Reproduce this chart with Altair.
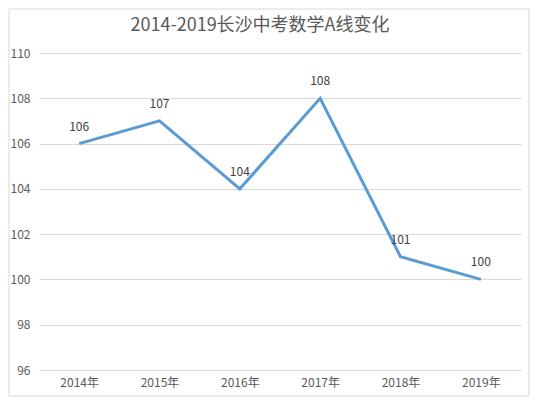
import altair as alt
import pandas as pd

years = ["2014年", "2015年", "2016年", "2017年", "2018年", "2019年"]
scores = [106, 107, 104, 108, 101, 100]
y_ticks = [96, 98, 100, 102, 104, 106, 108, 110]
title_text = "2014-2019长沙中考数学A线变化"

df = pd.DataFrame({"year": years, "score": scores})
FONT = "Noto Sans CJK SC"

x = alt.X("year:N", sort=years, title=None,
          scale=alt.Scale(type="point", padding=0.5),
          axis=alt.Axis(labelAngle=0, ticks=False, domain=False, grid=False,
                        labelPadding=7, labelFontSize=12, labelColor="#595959", labelFont=FONT))
y = alt.Y("score:Q", title=None,
          scale=alt.Scale(domain=[96, 110], nice=False, zero=False),
          axis=alt.Axis(values=y_ticks, ticks=False, domain=False, gridColor="#d9d9d9",
                        labelPadding=9, labelFontSize=12, labelColor="#595959", labelFont=FONT))

one = pd.DataFrame({"t": [title_text]})

border = alt.Chart(one).mark_rect(
    fill=None, fillOpacity=0, stroke="#d9d9d9", strokeWidth=1, clip=False
).encode(x=alt.value(-30), x2=alt.value(490), y=alt.value(-44), y2=alt.value(343))

title = alt.Chart(one).mark_text(
    fontSize=18, font=FONT, color="#595959", baseline="middle", align="center"
).encode(x=alt.value(221), y=alt.value(-27), text="t:N")

line = alt.Chart(df).mark_line(color="#5B9BD5", strokeWidth=3).encode(x=x, y=y)
labels = alt.Chart(df).mark_text(dy=-17, fontSize=12, color="#404040", font=FONT).encode(
    x=alt.X("year:N", sort=years), y="score:Q", text="score:Q")

chart = alt.layer(border, title, line, labels).properties(
    width=482, height=317,
    autosize=alt.AutoSizeParams(type="none"),
    padding={"left": 31, "top": 45, "right": 9, "bottom": 27},
).configure_view(stroke=None)

chart.save("out.html", embed_options={"renderer": "svg", "actions": False})
